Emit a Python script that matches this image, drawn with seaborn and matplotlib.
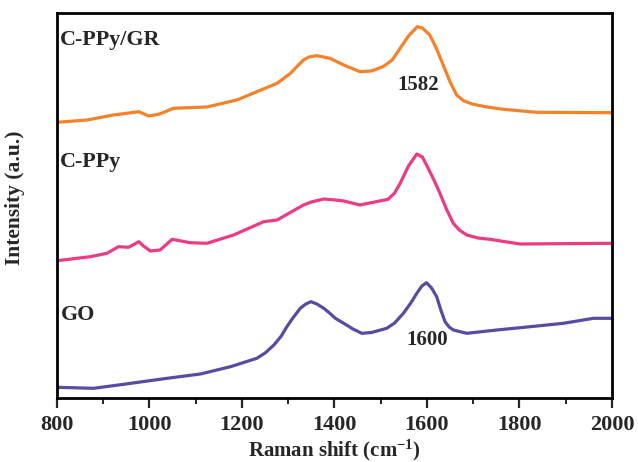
import numpy as np
import pandas as pd
import matplotlib
matplotlib.use("Agg")
import matplotlib.pyplot as plt
import seaborn as sns
from matplotlib.ticker import MultipleLocator

# Raman spectra (intensity in arbitrary units)
gr_shift = [800, 865, 922, 977, 998, 1020, 1052, 1124, 1189, 1276, 1305, 1320, 1333, 1345,
            1362, 1390, 1420, 1455, 1480, 1505, 1525, 1542, 1560, 1579, 1590, 1606, 1620,
            1635, 1650, 1664, 1680, 1700, 1730, 1765, 1837, 2000]
gr_int = [275.7, 278, 283, 286.3, 282, 283.7, 289.7, 291, 298, 314.7, 324.7, 332, 338, 341,
          342.3, 339.7, 333, 326.3, 327, 331.3, 338, 349.7, 362, 371.3, 370, 363, 350,
          333, 316, 303, 297, 293.7, 291, 288.7, 285.7, 285.3]

ppy_shift = [800, 872, 908, 933, 955, 977, 987, 1002, 1023, 1049, 1088, 1124, 1182, 1247,
             1276, 1333, 1350, 1377, 1402, 1420, 1455, 1516, 1530, 1542, 1560, 1578, 1590,
             1599, 1613, 1628, 1642, 1657, 1670, 1686, 1710, 1736, 1801, 2000]
ppy_int = [137.3, 141.3, 144.7, 151.3, 150.7, 156.3, 152, 147, 148, 158.7, 155.3, 154.7, 163,
           176.3, 178, 193, 196, 199, 198, 197, 193, 198.7, 205, 214.7, 232, 244, 241,
           233, 220, 204.7, 189, 174.7, 168, 163, 160, 158.7, 154, 154.7]

go_shift = [800, 879, 944, 1038, 1110, 1175, 1232, 1250, 1269, 1285, 1297, 1310, 1326, 1338,
            1349, 1362, 1377, 1390, 1402, 1426, 1440, 1459, 1480, 1513, 1530, 1549, 1565,
            1578, 1589, 1599, 1610, 1621, 1630, 1639, 1648, 1657, 1686, 1751, 1823, 1895,
            1960, 2000]
go_int = [10.7, 9.7, 13.7, 19.7, 24, 31.3, 39.7, 45, 53, 62, 71.3, 80, 89.7, 94,
          96.3, 94, 89.7, 84.7, 79.7, 73, 69, 64.7, 65.5, 69.7, 75, 84.7, 95,
          104.7, 112, 115.3, 110, 101.3, 88, 76.3, 71, 68, 64.7, 68, 71.3, 74.7,
          79.7, 79.7]

samples = ["C-PPy/GR", "C-PPy", "GO"]
colors = ["#F5822A", "#EC3A84", "#5A4AA2"]

df = pd.concat([
    pd.DataFrame({"shift": gr_shift, "intensity": gr_int, "sample": "C-PPy/GR"}),
    pd.DataFrame({"shift": ppy_shift, "intensity": ppy_int, "sample": "C-PPy"}),
    pd.DataFrame({"shift": go_shift, "intensity": go_int, "sample": "GO"}),
], ignore_index=True)

sns.set_style("ticks")
plt.rcParams["font.family"] = ["Liberation Serif", "DejaVu Serif"]
plt.rcParams["font.weight"] = "bold"
plt.rcParams["mathtext.fontset"] = "custom"
plt.rcParams["mathtext.rm"] = "Liberation Serif:bold"
plt.rcParams["mathtext.bf"] = "Liberation Serif:bold"
plt.rcParams["mathtext.default"] = "bf"

fig = plt.figure(figsize=(6.38, 4.62), dpi=100)
ax = fig.add_axes([0.0893, 0.1385, 0.8699, 0.8334])

sns.lineplot(data=df, x="shift", y="intensity", hue="sample", hue_order=samples,
             palette=colors, linewidth=2.3, legend=False, estimator=None, ax=ax)

ax.set_xlim(800, 2000)
ax.set_ylim(0, 385)
ax.xaxis.set_major_locator(MultipleLocator(200))
ax.xaxis.set_minor_locator(MultipleLocator(100))
ax.set_yticks([])
ax.tick_params(axis="x", which="major", direction="out", length=7, width=1.6,
               labelsize=16, pad=5)
ax.tick_params(axis="x", which="minor", direction="out", length=4, width=1.4)
for lab in ax.get_xticklabels():
    lab.set_fontweight("bold")
for sp in ax.spines.values():
    sp.set_visible(True)
    sp.set_linewidth(2)
    sp.set_color("black")

ax.set_xlabel("Raman shift (cm$^{-1}$)", fontsize=15, fontweight="bold", labelpad=2)
ax.set_ylabel("Intensity (a.u.)", fontsize=15.5, fontweight="bold", labelpad=19)
ax.yaxis.set_label_coords(-0.058, 0.52)

# sample names and peak positions
ax.text(807, 358, "C-PPy/GR", fontsize=15.8, fontweight="bold", va="center")
ax.text(807, 236, "C-PPy", fontsize=15.8, fontweight="bold", va="center")
ax.text(809, 83, "GO", fontsize=15.8, fontweight="bold", va="center")
ax.text(1582, 313, "1582", fontsize=15, fontweight="bold", ha="center", va="center")
ax.text(1600, 58, "1600", fontsize=15, fontweight="bold", ha="center", va="center")

fig.savefig("out.png", dpi=100)
